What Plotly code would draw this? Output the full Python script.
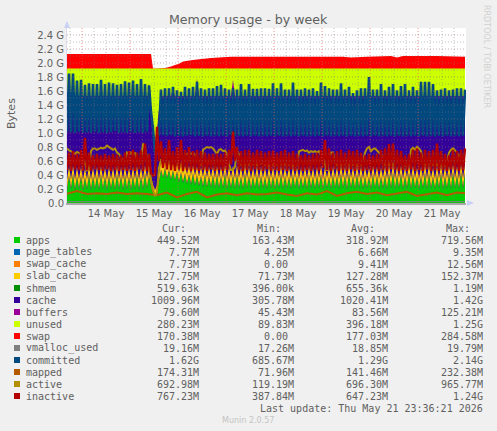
import pandas as pd
import plotly.graph_objects as go

# Values in G. The graph has one sample per hour.
start = pd.Timestamp("2026-05-13 16:30")
hours_total = 200

legend_names = ["apps", "page_tables", "swap_cache", "slab_cache", "shmem", "cache", "buffers",
                "unused", "swap", "vmalloc_used", "committed", "mapped", "active", "inactive"]
legend_colors = ["#00CC00", "#0066B3", "#FF8000", "#FFCC00", "#008F00", "#330099", "#990099",
                 "#CCFF00", "#FF0000", "#808080", "#00487D", "#B35A00", "#B38F00", "#B30000"]
cur_vals = ["449.52M", "7.77M", "7.73M", "127.75M", "519.63k", "1009.96M", "79.60M",
            "280.23M", "170.38M", "19.16M", "1.62G", "174.31M", "692.98M", "767.23M"]
min_vals = ["163.43M", "4.25M", "0.00\u00a0", "71.73M", "396.00k", "305.78M", "45.43M",
            "89.83M", "0.00\u00a0", "17.26M", "685.67M", "71.96M", "119.19M", "387.84M"]
avg_vals = ["318.92M", "6.66M", "9.41M", "127.28M", "655.36k", "1020.41M", "83.56M",
            "396.18M", "177.03M", "18.85M", "1.29G", "141.46M", "696.30M", "647.23M"]
max_vals = ["719.56M", "9.35M", "12.56M", "152.37M", "1.19M", "1.42G", "125.21M",
            "1.25G", "284.58M", "19.79M", "2.14G", "232.38M", "965.77M", "1.24G"]

y_ticks = [0, 0.2, 0.4, 0.6, 0.8, 1.0, 1.2, 1.4, 1.6, 1.8, 2.0, 2.2, 2.4]
y_labels = ["0.0", "0.2 G", "0.4 G", "0.6 G", "0.8 G", "1.0 G", "1.2 G", "1.4 G", "1.6 G",
            "1.8 G", "2.0 G", "2.2 G", "2.4 G"]
day_ticks = ["2026-05-14 12:00", "2026-05-15 12:00", "2026-05-16 12:00", "2026-05-17 12:00",
             "2026-05-18 12:00", "2026-05-19 12:00", "2026-05-20 12:00", "2026-05-21 12:00"]
day_labels = ["14 May", "15 May", "16 May", "17 May", "18 May", "19 May", "20 May", "21 May"]

# lower stack: apps has a value every hour, the thin ones only where they change
apps = [.19, .38, .20, .40, .19, .37, .20, .38, .19, .36,
        .20, .39, .19, .37, .20, .38, .19, .40, .20, .37,
        .19, .38, .20, .37, .19, .40, .20, .38, .19, .39,
        .20, .37, .19, .38, .20, .40, .19, .37, .20, .41,
        .21, .38, .24, .15, .11, .16, .30, .47, .36, .49,
        .35, .47, .33, .46, .32, .44, .30, .43, .29, .41,
        .27, .40, .26, .41, .25, .39, .24, .38, .23, .40,
        .22, .38, .22, .39, .21, .40, .21, .38, .21, .42,
        .20, .38, .21, .39, .20, .40, .21, .37, .20, .41,
        .21, .38, .20, .37, .21, .39, .20, .38, .21, .37,
        .20, .39, .21, .38, .20, .37, .21, .40, .20, .38,
        .21, .37, .20, .39, .21, .38, .20, .37, .21, .38,
        .20, .39, .21, .37, .20, .38, .21, .40, .20, .38,
        .21, .37, .20, .39, .21, .38, .20, .41, .21, .39,
        .20, .41, .21, .38, .20, .40, .21, .39, .20, .38,
        .21, .37, .20, .40, .21, .38, .20, .37, .21, .39,
        .20, .41, .21, .42, .20, .39, .21, .41, .20, .38,
        .21, .42, .20, .40, .21, .37, .20, .38, .21, .42,
        .20, .41, .21, .37, .20, .39, .21, .42, .20, .38,
        .21, .41, .20, .43, .21, .39, .20, .44, .21, .42]
thin_hours = [0, 42, 44, 47, 80, 120, 160, 199]
page_tables = [.007, .007, .004, .006, .007, .007, .007, .0076]
swap_cache = [.009, .009, .001, .006, .009, .010, .009, .0075]
slab_cache = [.125, .125, .072, .120, .130, .125, .128, .125]
shmem = [.0006, .0006, .0004, .0006, .0007, .0006, .0006, .0005]

# upper edges of the areas behind the stack
edge_hours = [0, 41, 42, 43, 44, 45, 46, 47, 48, 199]
cache_top = [1.50, 1.50, 1.30, 1.05, .65, 1.00, 1.30, 1.48, 1.50, 1.50]
buffers_hours = [0, 41, 42, 43, 44, 45, 46, 47, 48, 52, 53, 54, 64, 65, 66, 82, 83, 84, 199]
buffers_top = [1.53, 1.53, 1.34, 1.10, .70, 1.05, 1.34, 1.52, 1.53, 1.53, 1.63, 1.53, 1.53, 1.78,
               1.53, 1.53, 1.76, 1.53, 1.53]
unused_hours = [0, 199]
unused_top = [1.92, 1.92]
swap_hours = [0, 42, 43, 45, 49, 52, 54, 56, 58, 62, 65, 72, 82, 120, 138, 142, 150, 162, 165,
              168, 185, 199]
swap_top = [2.13, 2.13, 1.92, 1.92, 1.93, 1.95, 1.97, 1.99, 2.02, 2.04, 2.05, 2.07, 2.09, 2.09,
            2.09, 2.08, 2.09, 2.10, 2.08, 2.10, 2.10, 2.09]

# lines
vmalloc_hours = [0, 44, 100, 199]
vmalloc_used = [.019, .017, .019, .019]
committed = [1.02, 1.85, 1.01, 1.85, 1.00, 1.75, 1.02, 1.76, 1.00, 1.69,
             1.01, 1.71, 1.00, 1.70, 1.02, 1.70, 1.00, 1.76, 1.01, 1.70,
             1.00, 1.72, 1.01, 1.71, 1.03, 1.69, 1.00, 1.70, 1.01, 1.74,
             1.00, 1.72, 1.02, 1.75, 1.00, 1.70, 1.01, 1.77, 1.00, 1.70,
             1.02, 1.68, 1.30, 1.06, .72, .95, .98, 1.62, .97, 1.64,
             .96, 1.64, .97, 1.66, .95, 1.61, .96, 1.59, .95, 1.66,
             .96, 1.64, .97, 1.66, .95, 1.73, .96, 1.64, .95, 1.62,
             .96, 1.64, .95, 1.64, .96, 1.67, .95, 1.69, .96, 1.64,
             .95, 1.62, .97, 1.64, .95, 1.62, .96, 1.70, .95, 1.62,
             .96, 1.70, .95, 1.63, .96, 1.63, .95, 1.64, .96, 1.64,
             .95, 1.63, .96, 1.71, .95, 1.64, .96, 1.71, .95, 1.62,
             .96, 1.62, .95, 1.72, .96, 1.62, .95, 1.62, .96, 1.64,
             .95, 1.62, .96, 1.64, .95, 1.60, .96, 1.72, .95, 1.67,
             .96, 1.64, .95, 1.62, .96, 1.62, .95, 1.71, .96, 1.62,
             .95, 1.66, .96, 1.57, .95, 1.61, .96, 1.64, .95, 1.64,
             .96, 1.80, .95, 1.62, .96, 1.62, .95, 1.70, .96, 1.61,
             .95, 1.66, .96, 1.70, .95, 1.61, .96, 1.67, .95, 1.70,
             .96, 1.61, .95, 1.66, .96, 1.61, .95, 1.73, .96, 1.73,
             .95, 1.73, .96, 1.70, .95, 1.61, .96, 1.62, .95, 1.64,
             .96, 1.61, .95, 1.62, .96, 1.64, .95, 1.64, .96, 1.62]
mapped_hours = [0, 5, 10, 15, 20, 25, 30, 35, 40, 45, 50, 55, 60, 65, 70, 75, 80, 85, 90, 95,
                100, 105, 110, 115, 120, 125, 130, 135, 140, 145, 150, 155, 160, 165, 170, 175,
                180, 185, 190, 195, 199]
mapped = [.13, .17, .13, .14, .13, .15, .13, .14, .13, .11,
          .15, .08, .13, .16, .08, .12, .14, .11, .14, .12,
          .13, .15, .12, .10, .14, .12, .17, .10, .14, .16,
          .13, .15, .11, .14, .16, .10, .13, .15, .11, .15, .14]
active = [.78, .75, .74, .72, .70, .73, .72, .70, .66, .55,
          .47, .50, .74, .78, .78, .76, .77, .79, .78, .79,
          .82, .80, .78, .76, .78, .72, .70, .65, .60, .55,
          .72, .70, .72, .68, .72, .60, .55, .58, .85, .78,
          .65, .50, .38, .18, .10, .15, .50, .62, .64, .66,
          .62, .58, .55, .62, .62, .60, .50, .55, .60, .68,
          .70, .72, .70, .72, .68, .66, .60, .53, .76, .78,
          .80, .79, .80, .78, .74, .70, .76, .77, .74, .75,
          .70, .55, .47, .47, .52, .75, .70, .53, .60, .53,
          .60, .53, .61, .54, .60, .53, .60, .55, .61, .53,
          .60, .52, .60, .53, .62, .53, .60, .54, .60, .53,
          .61, .53, .60, .52, .60, .53, .74, .75, .76, .74,
          .75, .72, .74, .73, .74, .72, .74, .68, .70, .55,
          .46, .62, .72, .72, .60, .53, .61, .53, .60, .54,
          .60, .53, .62, .53, .60, .52, .60, .53, .60, .72,
          .78, .80, .74, .77, .78, .75, .72, .70, .66, .53,
          .60, .53, .61, .53, .60, .58, .56, .58, .55, .53,
          .60, .53, .76, .79, .76, .80, .78, .74, .60, .53,
          .61, .54, .60, .53, .60, .53, .58, .53, .56, .53,
          .60, .72, .76, .78, .75, .72, .66, .70, .62, .58]
inactive = [.47, .72, .46, .74, .48, .70, .47, .76, .46, .93,
            .47, .72, .46, .68, .48, .70, .47, .68, .46, .70,
            .48, .68, .46, .70, .47, .69, .46, .68, .47, .72,
            .46, .74, .47, .76, .46, .72, .48, .75, .46, .85,
            .46, .70, .42, .39, .40, 1.09, .60, .88, .50, .78,
            .48, .90, .47, .74, .46, .80, .48, .90, .46, .76,
            .47, .80, .46, .74, .47, .76, .46, .74, .47, .72,
            .46, .70, .48, .70, .46, .71, .47, .70, .46, .72,
            .47, .76, .55, 1.02, .60, .80, .47, .74, .46, .76,
            .47, .76, .46, .72, .48, .76, .47, .74, .46, .72,
            .48, .74, .46, .75, .47, .72, .46, .74, .47, .76,
            .46, .72, .48, .74, .46, .70, .47, .68, .46, .70,
            .47, .68, .46, .70, .48, .72, .46, .76, .50, .90,
            .47, .78, .46, .72, .48, .74, .46, .76, .47, .72,
            .46, .76, .48, .74, .46, .76, .47, .72, .46, .68,
            .47, .70, .46, .68, .48, .70, .46, .76, .47, .78,
            .46, .84, .48, .85, .47, .76, .46, .74, .47, .68,
            .46, .70, .48, .76, .46, .78, .47, .72, .46, .76,
            .48, .74, .46, .76, .47, .85, .46, .74, .47, .70,
            .46, .68, .48, .76, .47, .74, .46, .76, .47, .78]

every_hour = list(range(hours_total))


def to_time(hours):
    return [start + pd.Timedelta(hours=h) for h in hours]


# pixel position in the 497x431 image -> paper fraction of the plot area
def px(x):
    return (x - 67) / 399


def py(y):
    return (203 - y) / 175


colors = dict(zip(legend_names, legend_colors))
fig = go.Figure()

# areas behind the stack, widest first
for name, hrs, top in [("swap", swap_hours, swap_top), ("unused", unused_hours, unused_top),
                       ("buffers", buffers_hours, buffers_top), ("cache", edge_hours, cache_top)]:
    fig.add_trace(go.Scatter(x=to_time(hrs), y=top, name=name, mode="none", fill="tozeroy",
                             fillcolor=colors[name]))

# bottom of the stack
for name, hrs, vals in [("apps", every_hour, apps), ("page_tables", thin_hours, page_tables),
                        ("swap_cache", thin_hours, swap_cache), ("slab_cache", thin_hours, slab_cache),
                        ("shmem", thin_hours, shmem)]:
    fig.add_trace(go.Scatter(x=to_time(hrs), y=vals, name=name, mode="none", stackgroup="low",
                             stackgaps="interpolate", fillcolor=colors[name]))

# lines on top
for name, hrs, vals, w in [("vmalloc_used", vmalloc_hours, vmalloc_used, 1),
                           ("committed", every_hour, committed, 2.6),
                           ("mapped", mapped_hours, mapped, 2),
                           ("active", every_hour, active, 2),
                           ("inactive", every_hour, inactive, 2.4)]:
    fig.add_trace(go.Scatter(x=to_time(hrs), y=vals, name=name, mode="lines",
                             line=dict(color=colors[name], width=w)))

fig.update_layout(
    width=497, height=431, margin=dict(l=67, r=31, t=28, b=228), autosize=False,
    paper_bgcolor="#f0f0f0", plot_bgcolor="#ffffff", showlegend=False,
    font=dict(family="DejaVu Sans", size=10, color="#606060"),
    xaxis=dict(range=[start, start + pd.Timedelta(hours=199.5)], tickmode="array",
               tickvals=day_ticks, ticktext=day_labels, showgrid=False, ticks="", zeroline=False,
               showline=True, linecolor="#a8a8a8", linewidth=2),
    yaxis=dict(range=[0, 2.5], tickmode="array", tickvals=y_ticks, ticktext=y_labels,
               showgrid=False, ticks="", zeroline=False, showline=True, linecolor="#dcdcec",
               linewidth=1),
)

# rrdtool draws its grid over the areas, so the grid goes in as shapes above the traces
for h in range(1, 25):
    fig.add_shape(type="line", xref="paper", x0=0, x1=1, yref="y", y0=h / 10, y1=h / 10, layer="above",
                  line=dict(color="rgba(150,110,110,0.55)" if h % 2 == 0 else "rgba(120,120,120,0.45)",
                            width=1, dash="1px,2px"))
for stamp in pd.date_range("2026-05-13 18:00", "2026-05-21 18:00", freq="6h"):
    daily = stamp.hour == 0
    fig.add_shape(type="line", yref="paper", y0=0, y1=1, xref="x", x0=stamp, x1=stamp, layer="above",
                  line=dict(color="rgba(230,90,90,0.65)" if daily else "rgba(120,120,120,0.45)",
                            width=1, dash="1px,2px"))

# axis arrows
fig.add_shape(type="path", xref="paper", yref="paper", layer="above", line_width=0, fillcolor="#c8d0f4",
              path=f"M {px(64)} {py(28)} L {px(67)} {py(21)} L {px(70)} {py(28)} Z")
fig.add_shape(type="path", xref="paper", yref="paper", layer="above", line_width=0, fillcolor="#c8d0f4",
              path=f"M {px(467)} {py(200)} L {px(474)} {py(203)} L {px(467)} {py(206)} Z")


def label(x, y, text, anchor="left", size=10, color="#606060", family="DejaVu Sans Mono", angle=0):
    fig.add_annotation(x=px(x), y=py(y), xref="paper", yref="paper", text=text, showarrow=False,
                       xanchor=anchor, yanchor="middle", borderpad=0, borderwidth=0, textangle=angle,
                       font=dict(family=family, size=size, color=color))


label(248.5, 20, "Memory usage - by week", "center", 12.6, "#606060", "DejaVu Sans")
label(11, 114, "Bytes", "center", 11, "#606060", "DejaVu Sans", -90)
label(487, 56, "RRDTOOL / TOBI OETIKER", "center", 8, "#d0d0d0", "DejaVu Sans", 90)
label(248, 420, "Munin 2.0.57", "center", 8, "#c4c4c4", "DejaVu Sans")

# legend table
for x, head in [(186, "Cur:"), (281, "Min:"), (375, "Avg:"), (470, "Max:")]:
    label(x, 228, head, "right")
for row, name in enumerate(legend_names):
    y = 240 + row * 12
    fig.add_shape(type="rect", xref="paper", yref="paper", layer="above", line_width=0,
                  fillcolor=colors[name], x0=px(14), x1=px(20), y0=py(y - 3), y1=py(y + 3))
    label(26, y, name)
    label(199, y, cur_vals[row], "right")
    label(294, y, min_vals[row], "right")
    label(388, y, avg_vals[row], "right")
    label(483, y, max_vals[row], "right")
label(483, 408, "Last update: Thu May 21 23:36:21 2026", "right")

fig.write_html("out.html", config=dict(displayModeBar=False),
               post_script="document.body.style.margin='0';")
